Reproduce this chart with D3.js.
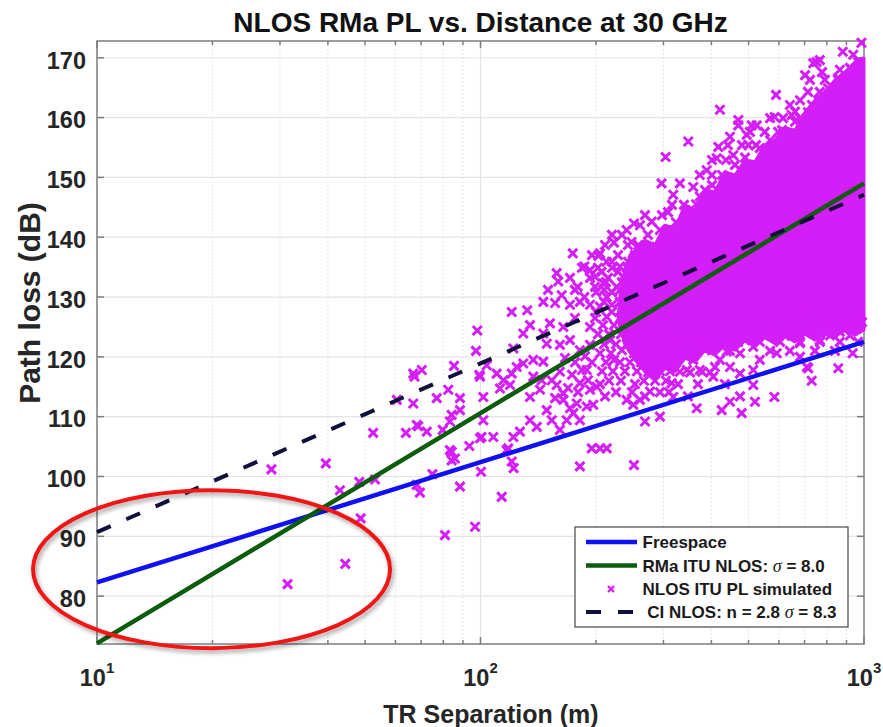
<!DOCTYPE html>
<html>
<head>
<meta charset="utf-8">
<script src="https://cdn.jsdelivr.net/npm/d3@7"></script>
<style>
  body { margin: 0; background: #ffffff; }
  text { font-family: "Liberation Sans", Arial, Helvetica, sans-serif; }
</style>
</head>
<body>
<svg id="chart" width="883" height="727"></svg>
<script>
// ---------------- data ----------------
const titleText = "NLOS RMa PL vs. Distance at 30 GHz";
const xLabelText = "TR Separation (m)";
const yLabelText = "Path loss (dB)";

// model lines (distance in m, path loss in dB)
const modelDist   = [10, 100, 1000];
const freespacePL = [82.3, 102.4, 122.5];
const rmaItuPL    = [72.1, 110.6, 149.0];
const ciNlosPL    = [90.7, 118.9, 147.1];

// axis ticks
const yTickValues = [80, 90, 100, 110, 120, 130, 140, 150, 160, 170];
const xTickValues = [10, 100, 1000];
const xTickExponents = ["1", "2", "3"];
const xMinorValues = [20, 30, 40, 50, 60, 70, 80, 90, 200, 300, 400, 500, 600, 700, 800, 900];

// saturated core of the simulated cloud: outline [distance, PL]
const denseCore = [
  [245.3,137.0],[268.5,139.5],[285.1,138.7],[302.7,142.0],[321.4,141.5],[341.4,145.4],[362.6,144.5],
  [384.4,147.9],[408.6,147.6],[433.8,150.9],[460.9,150.4],[489.5,152.9],[519.7,152.6],[551.3,155.4],
  [586.4,156.25],[622.3,158.3],[660.6,157.9],[702.0,160.9],[744.9,162.9],[790.5,164.3],[840.2,166.3],
  [892.5,167.6],[946.8,169.3],[1000,169.96],
  [1000,124.5],[946.8,123.6],[892.5,124.8],[840.2,123.2],[790.5,124.2],[744.9,122.8],[702.0,123.8],
  [660.6,122.5],[622.3,123.5],[586.4,122.2],[551.3,123.2],[519.7,121.8],[489.5,122.8],[460.9,121.1],
  [433.8,122.0],[408.6,120.3],[384.4,121.1],[362.6,119.1],[341.4,119.8],[321.4,117.5],[302.7,118.1],
  [285.1,116.1],[268.5,117.5],[252.8,119.5],[238.0,122.0],[228.3,126.2],[231.0,130.3],[238.0,134.5]
];

// simulated NLOS path loss samples [distance, PL]
const simPoints = [
  [28.5,101.2],[31.4,82.0],[44.4,85.4],[39.5,102.2],[43.0,97.7],[48.3,99.1],[48.7,93.0],[53.1,99.5],
  [52.5,107.3],[63.9,107.3],[68.8,108.4],[72.4,107.5],[79.7,107.8],[83.2,109.2],[68.2,98.6],[69.5,97.3],
  [74.9,100.4],[80.8,90.2],[84.1,104.1],[84.1,102.7],[85.8,103.0],[88.4,98.3],[93.5,105.1],[96.8,91.6],
  [99.7,106.4],[100.3,100.8],[60.5,112.8],[66.8,112.2],[68.2,108.6],[83.2,104.4],[88.4,111.1],[88.4,113.1],
  [82.4,114.5],[76.9,113.1],[101.7,113.3],[99.7,116.7],[103.8,118.6],[113.6,96.6],[108.0,106.6],[117.0,104.4],
  [120.6,102.5],[122.0,101.4],[98.1,124.4],[97.3,121.0],[66.8,117.2],[70.3,117.8],[67.3,116.7],[85.3,118.5],
  [99.3,117.0],[84.1,110.3],[101.7,109.4],[100.6,106.6],
  [134.6,125.3],[129.3,123.9],[145.8,123.9],[151.7,125.6],[148.8,122.2],[121.8,121.4],[110.2,117.2],[114.7,116.1],
  [119.4,115.3],[112.4,114.7],[124.3,118.3],[129.3,118.9],[137.3,119.5],[145.8,119.2],[120.6,117.2],[121.8,106.6],
  [126.7,107.5],[118.1,104.7],[134.6,113.3],[142.9,114.5],[134.6,109.4],[140.2,108.3],[148.8,111.1],[153.4,109.4],
  [161.1,107.8],[156.5,113.1],[164.4,112.8],[174.6,110.6],[167.8,109.4],[181.6,109.4],[189.2,111.7],[196.8,112.0],
  [178.2,112.2],[171.1,111.4],[137.3,116.7],[144.4,116.1],[153.4,116.1],[158.0,115.3],[164.4,113.9],[189.2,117.8],
  [200.9,115.0],[181.6,115.6],[193.0,114.5],[276.7,114.2],[293.7,110.0],[268.5,109.2],[250.3,112.0],[260.5,112.8],
  [240.5,112.8],[181.6,101.7],[251.3,101.9],[195.0,104.7],[204.9,104.7],[213.4,104.7],
  [161.1,122.0],[171.1,122.8],[181.6,121.1],[193.0,122.0],[166.1,119.8],[176.4,119.1],[187.3,120.1],[161.1,117.5],
  [173.2,117.0],[183.9,117.8],[195.3,119.1],[169.1,114.8],[179.6,114.1],[190.7,116.1],
  [208.6,125.3],[222.9,125.3],[239.5,125.3],[255.9,125.3],[273.3,125.3],[292.0,125.3],[310.1,125.3],
  [202.5,123.8],[216.3,123.8],[232.4,123.8],[249.8,123.8],[265.2,123.8],[285.1,123.8],[302.7,123.8],
  [209.9,122.1],[225.6,122.1],[240.9,122.1],[260.5,122.1],[278.4,122.1],[297.3,122.1],
  [204.9,120.6],[218.9,120.6],[251.3,120.6],[270.0,120.6],[288.6,120.6],[308.2,120.6],
  [212.4,119.1],[231.0,119.1],[245.3,119.1],[262.1,119.1],[281.7,119.1],[300.9,119.1],
  [207.4,117.6],[221.5,117.6],[238.0,117.6],[255.9,117.6],[293.7,117.6],[311.9,117.6],
  [216.3,116.0],[232.4,116.0],[266.8,116.0],[285.1,116.0],[304.5,116.0],
  [225.6,114.1],[248.3,114.1],[293.7,114.1],[310.1,114.1],
  [303.8,153.4],[296.6,149.0],[174.0,137.3],[222.9,139.1],[240.5,141.2],[251.3,142.3],[260.5,142.0],[279.5,142.6],
  [247.6,139.2],[257.9,138.7],[204.9,137.3],[202.9,136.9],[213.3,135.9],[186.6,135.1],[193.0,134.5],[158.0,134.0],
  [159.5,132.6],[150.0,131.2],[162.8,130.3],[145.8,129.2],[156.5,129.0],[120.6,127.5],[132.4,127.8],[179.2,131.7],
  [186.6,130.0],[181.6,129.2],[198.9,133.4],[207.0,134.2],[198.9,131.7],[231.0,135.1],[235.6,133.4],[226.5,131.7],
  [240.5,130.0],[271.1,136.7],[287.9,138.4],[282.2,135.6],[209.0,132.3],[213.3,130.0],[204.9,128.4],[213.3,126.7],
  [193.0,125.0],[164.4,125.0],[250.3,134.0],[265.7,135.1],[293.7,136.7],[245.3,132.6],[255.5,131.7],[293.7,141.2],
  [305.7,139.5],
  [220.2,135.9],[242.4,135.9],[260.5,135.9],[293.7,135.9],
  [228.3,134.2],[251.3,134.2],[273.3,134.2],[300.9,134.2],
  [212.4,132.5],[233.8,132.5],[260.5,132.5],[285.1,132.5],[308.2,132.5],
  [200.1,130.8],[220.2,130.8],[245.3,130.8],[268.5,130.8],[293.7,130.8],
  [209.9,129.2],[231.0,129.2],[255.9,129.2],[280.0,129.2],[304.5,129.2],
  [200.1,127.5],[220.2,127.5],[242.4,127.5],[266.8,127.5],[290.3,127.5],
  [315.7,145.4],[339.2,145.4],
  [268.5,143.7],[297.3,143.7],[360.3,143.7],
  [220.2,140.4],[233.8,140.4],[273.3,140.4],[323.4,140.4],
  [211.2,138.7],[242.4,138.7],[304.5,138.7],
  [195.3,137.0],[228.3,137.0],[252.8,137.0],
  [183.9,134.9],[202.5,134.9],[220.2,134.9],[240.9,134.9],
  [171.1,133.2],[193.0,133.2],[215.0,133.2],[248.3,133.2],
  [176.3,131.2],[209.9,131.2],[231.0,131.2],[254.3,131.2],
  [171.1,128.7],[193.0,128.7],[220.2,128.7],[242.4,128.7],
  [176.3,126.5],[198.9,126.5],[231.0,126.5],[260.5,126.5],
  [217.6,122.8],[248.3,122.8],[327.3,122.8],[356.0,122.8],
  [233.8,121.1],[260.5,121.1],[323.4,121.1],[369.0,121.1],[401.4,121.1],
  [222.9,119.5],[276.7,119.5],[315.7,119.5],[421.0,119.5],
  [273.3,117.4],[351.8,117.4],[396.6,117.4],
  [204.9,115.45],[252.8,115.45],[327.3,115.45],[369.0,115.45],[433.8,115.45],
  [211.2,113.4],[268.5,113.4],[347.4,113.4],[475.0,113.4],
  [421.0,122.5],[469.5,122.5],[535.0,122.5],[604.0,122.5],[681.0,122.5],[767.0,122.5],[865.0,122.5],[964.5,122.5],
  [447.3,121.0],[569.0,121.0],[641.0,121.0],[744.9,121.0],[840.2,121.0],
  [384.4,123.6],[489.5,123.6],[586.4,123.6],[660.6,123.6],[815.3,123.6],[919.2,123.6],
  [315.1,115.6],[318.2,113.3],[366.3,111.4],[425.6,111.1],[447.3,112.5],[479.8,110.6],[514.4,115.3],[519.6,112.5],
  [583.8,113.3],[730.4,116.0],[715.8,118.1],[857.0,118.1],[934.6,120.6],[305.7,120.6],[331,117.5],[345.4,117.8],
  [373,117.8],[378.6,117.5],[404.6,116.7],[408.7,118.3],[447.3,118.3],[475,117.2],[514.4,117.8],[535,119.5],
  [592.3,120.6],[681,120.0],[709.3,118.3],[767,122.8],[865,124.2],[901.7,126.2],[957.2,124.8],[977,126.7],
  [695,128.7],[737.5,124.2],[799,123.9],[641,125.0],[681,122.3],[514.4,121.7],[475,120.6],[438.5,120.9],
  [358.8,119.5],[341.4,123.2],[384.9,122.5],[434.1,123.5],[489.5,122.8],[552.0,124.0],[622.3,123.5],[702.0,124.5],
  [791.3,125.2],[892.5,124.5],[988.1,125.8],
  [985,172.5],[880.3,171.0],[937.8,170.5],[752.7,169.3],[737.5,169.1],[767,169.6],[702.0,167.1],[681,162.9],
  [589.7,163.8],[660.9,161.0],[647.9,160.4],[584.9,160.1],[509.5,158.7],[525.0,158.7],[470.1,159.6],[470.1,158.7],
  [421,161.3],[447.3,156.8],[494.5,157.1],[499.4,155.4],[417.0,155.1],[456.2,153.7],[412.9,153.2],[348.2,156.0],
  [331,149.0],[318.2,147.1],[388.9,151.2],[358.8,148.4],[373,146.8],
  [308.2,144.2],[323.4,142.5],[343.5,144.5],[364.8,145.5],[384.9,147.9],[401.6,148.7],[426.3,150.4],[460.9,152.1],
  [489.5,153.3],[535,154.9],[569,156.2],[611.4,157.9],[660.9,159.3],[714.5,160.9],[758.9,162.9],[805.9,164.9],
  [855.6,166.6],[919,168.3],[964.7,169.3],[723,166.3],[777.2,167.6],[815.3,163.8],
  [373.0,150.4],[401.4,150.4],[401.4,152.9],[436.4,152.9],[441.7,155.4],[480.7,155.4],[522.8,155.4],
  [504.3,157.6],[551.3,157.6],[597.1,157.6],[569.0,159.9],[615.0,159.9],[681.0,159.9],
  [641.0,162.1],[731.6,162.1],[714.2,164.3],[767.0,164.3],[790.5,166.3],[855.6,166.3],[865.0,168.0],[930.3,168.0]
];

// circled annotation, bounding box in data units
const circleDist = [6.81, 58.1];
const circlePL   = [71.3, 97.7];

// legend
const legendLabels = ["Freespace", "RMa ITU NLOS: ", "NLOS ITU PL simulated", " CI NLOS: n = 2.8 "];
const legendSigma  = [null, " = 8.0", null, " = 8.3"];

// ---------------- styles ----------------
const colBlue = "#1010f5", colGreen = "#0b5c0b", colDash = "#10103a", colMag = "#d41ef7";
const colAxis = "#7d7d7d", colGrid = "#e4e4e4", colText = "#262626";

// ---------------- layout ----------------
const svg = d3.select("#chart");
const plot = { left: 97, right: 864, top: 41, bottom: 644 };
const x = d3.scaleLog().domain([10, 1000]).range([plot.left, plot.right]);
const y = d3.scaleLinear().domain([72, 172.8]).range([plot.bottom, plot.top]);

const defs = svg.append("defs");
const sh = defs.append("filter").attr("id", "shadow")
  .attr("x", "-10%").attr("y", "-10%").attr("width", "130%").attr("height", "140%");
sh.append("feDropShadow").attr("dx", 2).attr("dy", 3).attr("stdDeviation", 2)
  .attr("flood-color", "#000").attr("flood-opacity", 0.35);

// grid
const grid = svg.append("g");
grid.selectAll(".gy").data(yTickValues).join("line")
  .attr("x1", plot.left).attr("x2", plot.right)
  .attr("y1", d => y(d)).attr("y2", d => y(d))
  .attr("stroke", colGrid).attr("stroke-width", 1.2);
grid.selectAll(".gx").data([100]).join("line")
  .attr("x1", d => x(d)).attr("x2", d => x(d))
  .attr("y1", plot.top).attr("y2", plot.bottom)
  .attr("stroke", colGrid).attr("stroke-width", 1.2);
grid.selectAll(".gxm").data(xMinorValues).join("line")
  .attr("x1", d => x(d)).attr("x2", d => x(d))
  .attr("y1", plot.top).attr("y2", plot.bottom)
  .attr("stroke", "#dcdcdc").attr("stroke-width", 1).attr("stroke-dasharray", "1.5,2.5");

// axes box and ticks
const ax = svg.append("g").attr("stroke", colAxis).attr("stroke-width", 1.5).attr("fill", "none");
ax.append("rect").attr("x", plot.left).attr("y", plot.top)
  .attr("width", plot.right - plot.left).attr("height", plot.bottom - plot.top);
yTickValues.forEach(v => {
  ax.append("line").attr("x1", plot.left).attr("x2", plot.left + 7).attr("y1", y(v)).attr("y2", y(v));
  ax.append("line").attr("x1", plot.right).attr("x2", plot.right - 7).attr("y1", y(v)).attr("y2", y(v));
});
xTickValues.forEach(v => {
  ax.append("line").attr("x1", x(v)).attr("x2", x(v)).attr("y1", plot.bottom).attr("y2", plot.bottom - 7);
  ax.append("line").attr("x1", x(v)).attr("x2", x(v)).attr("y1", plot.top).attr("y2", plot.top + 7);
});
xMinorValues.forEach(v => {
  ax.append("line").attr("x1", x(v)).attr("x2", x(v)).attr("y1", plot.bottom).attr("y2", plot.bottom - 4);
  ax.append("line").attr("x1", x(v)).attr("x2", x(v)).attr("y1", plot.top).attr("y2", plot.top + 4);
});

// simulated cloud
const lineGen = d3.line().x(d => x(d[0])).y(d => y(d[1]));
svg.append("path").attr("d", lineGen(denseCore) + "Z")
  .attr("fill", colMag).attr("stroke", colMag).attr("stroke-width", 3).attr("stroke-linejoin", "round");
const xMark = s => `M${-s},${-s}L${s},${s}M${-s},${s}L${s},${-s}`;
svg.append("g").selectAll("path").data(simPoints).join("path")
  .attr("transform", d => `translate(${x(d[0])},${y(d[1])})`)
  .attr("d", xMark(4.5))
  .attr("stroke", colMag).attr("stroke-width", 3).attr("fill", "none");

// model lines
const series = (vals) => modelDist.map((d, i) => [d, vals[i]]);
svg.append("path").attr("d", lineGen(series(freespacePL)))
  .attr("fill", "none").attr("stroke", colBlue).attr("stroke-width", 4.5);
svg.append("path").attr("d", lineGen(series(rmaItuPL)))
  .attr("fill", "none").attr("stroke", colGreen).attr("stroke-width", 4.5);
svg.append("path").attr("d", lineGen(series(ciNlosPL)))
  .attr("fill", "none").attr("stroke", colDash).attr("stroke-width", 4)
  .attr("stroke-dasharray", "15,17");

// tick labels
const lab = svg.append("g").attr("fill", colText).attr("font-weight", "bold");
lab.selectAll(".yl").data(yTickValues).join("text")
  .attr("x", plot.left - 11).attr("y", d => y(d) + 10.8)
  .attr("text-anchor", "end").attr("font-size", 23.5).text(d => d);
xTickValues.forEach((v, i) => {
  const t = lab.append("text").attr("x", x(v)).attr("y", 686)
    .attr("text-anchor", "middle").attr("font-size", 23.5);
  t.append("tspan").text("10");
  t.append("tspan").attr("dy", -13).attr("font-size", 15).text(xTickExponents[i]);
});

// title and axis labels
svg.append("text").attr("x", (plot.left + plot.right) / 2).attr("y", 31.5)
  .attr("text-anchor", "middle").attr("font-size", 28).attr("font-weight", "bold")
  .attr("fill", "#111").text(titleText);
svg.append("text").attr("x", 491).attr("y", 723)
  .attr("text-anchor", "middle").attr("font-size", 25).attr("font-weight", "bold")
  .attr("fill", colText).text(xLabelText);
svg.append("text").attr("transform", "translate(40,303) rotate(-90)")
  .attr("text-anchor", "middle").attr("font-size", 30).attr("font-weight", "bold")
  .attr("fill", colText).text(yLabelText);

// legend
const lg = svg.append("g");
lg.append("rect").attr("x", 575).attr("y", 527).attr("width", 273).attr("height", 100)
  .attr("fill", "#fff").attr("stroke", "#555").attr("stroke-width", 1.3);
const rowY = [542, 565.5, 589, 612];
lg.append("line").attr("x1", 586).attr("x2", 637).attr("y1", rowY[0]).attr("y2", rowY[0])
  .attr("stroke", colBlue).attr("stroke-width", 4.5);
lg.append("line").attr("x1", 586).attr("x2", 637).attr("y1", rowY[1]).attr("y2", rowY[1])
  .attr("stroke", colGreen).attr("stroke-width", 4.5);
lg.append("path").attr("transform", `translate(611,${rowY[2]})`).attr("d", xMark(3))
  .attr("stroke", colMag).attr("stroke-width", 2.3).attr("fill", "none");
lg.append("line").attr("x1", 586).attr("x2", 637).attr("y1", rowY[3]).attr("y2", rowY[3])
  .attr("stroke", colDash).attr("stroke-width", 4).attr("stroke-dasharray", "15,17");
legendLabels.forEach((s, i) => {
  const t = lg.append("text").attr("x", 642.5).attr("y", rowY[i] + 6.2)
    .attr("font-size", 17).attr("font-weight", "bold").attr("fill", "#1a1a1a")
    .attr("xml:space", "preserve").style("white-space", "pre");
  t.append("tspan").text(s);
  if (legendSigma[i]) {
    t.append("tspan").attr("font-family", "'Liberation Serif','DejaVu Serif',serif")
      .attr("font-style", "italic").attr("font-weight", "normal").attr("font-size", 18).text("\u03C3");
    t.append("tspan").text(legendSigma[i]);
  }
});

// circled region
const ex0 = x(circleDist[0]), ex1 = x(circleDist[1]);
const ey0 = y(circlePL[1]), ey1 = y(circlePL[0]);
svg.append("ellipse")
  .attr("cx", (ex0 + ex1) / 2).attr("cy", (ey0 + ey1) / 2)
  .attr("rx", (ex1 - ex0) / 2).attr("ry", (ey1 - ey0) / 2)
  .attr("fill", "none").attr("stroke", "#f01414").attr("stroke-width", 4)
  .attr("filter", "url(#shadow)");
</script>
</body>
</html>
